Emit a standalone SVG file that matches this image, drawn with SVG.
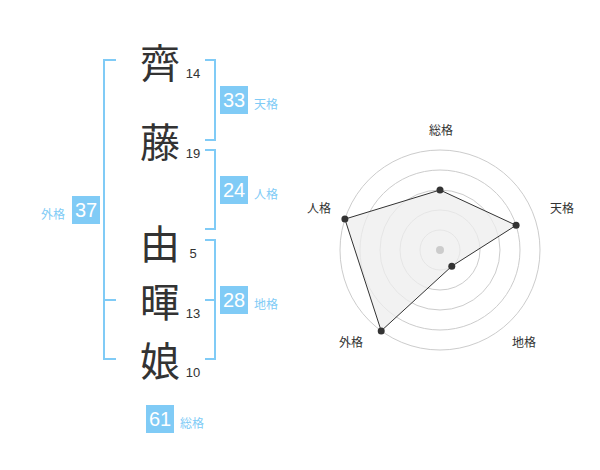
<svg xmlns="http://www.w3.org/2000/svg" width="600" height="470" viewBox="0 0 600 470">
<style>
.ch{font-family:"Noto Sans CJK JP","Noto Sans CJK SC",sans-serif;font-size:40px;fill:#333;text-anchor:middle;dominant-baseline:central}
.num{font-family:"Liberation Sans",Arial,sans-serif;font-size:13px;fill:#333;text-anchor:middle}
.br{fill:none;stroke:#80cbf6;stroke-width:2}
.box{fill:#80cbf6}
.bt{font-family:"Liberation Sans",Arial,sans-serif;font-size:20px;fill:#fff;text-anchor:middle}
.lb{font-family:"Noto Sans CJK JP","Noto Sans CJK SC",sans-serif;font-size:12px;fill:#80cbf6}
.rl{font-family:"Noto Sans CJK JP","Noto Sans CJK SC",sans-serif;font-size:12px;fill:#333;text-anchor:middle}
.ring{fill:none;stroke:#cccccc;stroke-width:1}
.pt{fill:#333}
</style>
<rect width="600" height="470" fill="#fff"/>
<g id="chars">
<g id="c1"><text class="ch" x="160" y="61">齊</text><text class="num" x="193" y="78">14</text></g>
<g id="c2"><text class="ch" x="160" y="140">藤</text><text class="num" x="193" y="158">19</text></g>
<g id="c3"><text class="ch" x="160" y="242">由</text><text class="num" x="193" y="258">5</text></g>
<g id="c4"><text class="ch" x="160" y="300">暉</text><text class="num" x="193" y="318">13</text></g>
<g id="c5"><text class="ch" x="160" y="359">娘</text><text class="num" x="193" y="377">10</text></g>
</g>
<g id="connectors">
<path class="br" d="M116,60 H104 V359 H116 M104,300 H116"/>
<path class="br" d="M205,60 H215 V140 H205"/>
<path class="br" d="M205,150 H215 V229 H205"/>
<path class="br" d="M205,240 H215 V359 H205 M205,300 H215"/>
</g>
<g id="tenkaku"><rect class="box" x="220" y="86" width="28" height="28"/><text class="bt" x="234" y="107">33</text><text class="lb" x="254" y="109">天格</text></g>
<g id="jinkaku"><rect class="box" x="220" y="176" width="28" height="28"/><text class="bt" x="234" y="197">24</text><text class="lb" x="254" y="199">人格</text></g>
<g id="chikaku"><rect class="box" x="220" y="286" width="28" height="28"/><text class="bt" x="234" y="307">28</text><text class="lb" x="254" y="309">地格</text></g>
<g id="gaikaku"><rect class="box" x="72" y="196" width="28" height="28"/><text class="bt" x="86" y="217">37</text><text class="lb" x="41" y="219">外格</text></g>
<g id="soukaku"><rect class="box" x="146" y="405" width="28" height="28"/><text class="bt" x="160" y="426">61</text><text class="lb" x="180" y="428">総格</text></g>
<g id="radar">
<circle class="ring" cx="440" cy="250" r="20"/>
<circle class="ring" cx="440" cy="250" r="40"/>
<circle class="ring" cx="440" cy="250" r="60"/>
<circle class="ring" cx="440" cy="250" r="80"/>
<circle class="ring" cx="440" cy="250" r="100"/>
<polygon points="440,190 516.1,225.3 451.8,266.2 381.2,330.9 344.9,219.1" fill="#eeeeee" fill-opacity="0.75" stroke="#333" stroke-width="1"/>
<circle cx="440" cy="250" r="4" fill="#cccccc"/>
<circle class="pt" cx="440" cy="190" r="3.5"/>
<circle class="pt" cx="516.1" cy="225.3" r="3.5"/>
<circle class="pt" cx="451.8" cy="266.2" r="3.5"/>
<circle class="pt" cx="381.2" cy="330.9" r="3.5"/>
<circle class="pt" cx="344.9" cy="219.1" r="3.5"/>
<text class="rl" x="441" y="135">総格</text>
<text class="rl" x="562" y="213">天格</text>
<text class="rl" x="319" y="213">人格</text>
<text class="rl" x="351" y="347">外格</text>
<text class="rl" x="524" y="347">地格</text>
</g>
</svg>
